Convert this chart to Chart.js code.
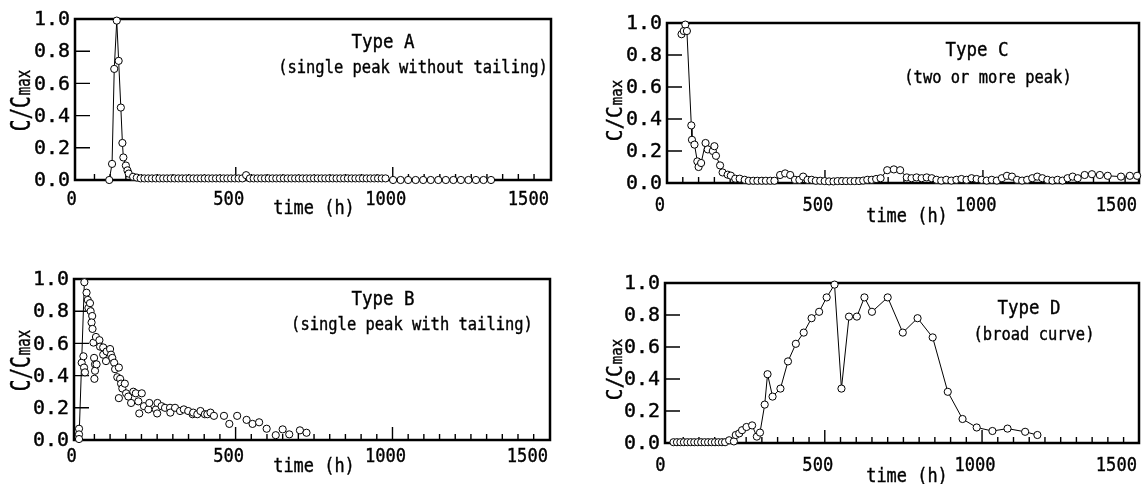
<!DOCTYPE html>
<html>
<head>
<meta charset="utf-8">
<script src="https://cdn.jsdelivr.net/npm/chart.js@4.4.1/dist/chart.umd.min.js"></script>
<style>
  body { margin: 0; background: #fff; }
  #wrap { position: relative; width: 1144px; height: 484px; overflow: hidden; }
  #wrap canvas { position: absolute; left: 0; top: 0; }
</style>
</head>
<body>
<div id="wrap">
  <canvas id="cA" width="1144" height="484"></canvas>
  <canvas id="cB" width="1144" height="484"></canvas>
  <canvas id="cC" width="1144" height="484"></canvas>
  <canvas id="cD" width="1144" height="484"></canvas>
</div>
<script>
// ---- data ----
const yTickValues = [0, 0.2, 0.4, 0.6, 0.8, 1.0];
const yTickLabels = ['0.0', '0.2', '0.4', '0.6', '0.8', '1.0'];
const xTickValues = [0, 500, 1000, 1500];
const xTickLabels = ['0', '500', '1000', '1500'];

// Type A
const timeA = [97, 106, 113, 121, 127, 134, 139, 142, 150, 155, 159, 173,
  185, 197, 209, 221, 233, 245, 257, 269, 281, 293, 305, 317, 329, 341, 353, 365, 377, 389, 401,
  413, 425, 437, 449, 461, 473, 485, 497, 509, 521, 533, 545, 557, 569, 581, 593, 605, 617, 629,
  641, 653, 665, 677, 689, 701, 713, 725, 737, 749, 761, 773, 785, 797, 809, 821, 833, 845, 857,
  869, 881, 893, 905, 917, 929, 941, 953, 965, 977,
  1001, 1025, 1049, 1073, 1097, 1121, 1145, 1169, 1193, 1217, 1241, 1265, 1289, 1313];
const valA = [0.00, 0.10, 0.69, 0.99, 0.74, 0.45, 0.23, 0.14, 0.09, 0.06, 0.04, 0.02,
  0.015, 0.01, 0.01, 0.01, 0.01, 0.01, 0.01, 0.01, 0.01, 0.01, 0.01, 0.01, 0.01, 0.01, 0.01, 0.01, 0.01, 0.01, 0.01,
  0.01, 0.01, 0.01, 0.01, 0.01, 0.01, 0.01, 0.01, 0.01, 0.01, 0.03, 0.01, 0.01, 0.01, 0.01, 0.01, 0.01, 0.01, 0.01,
  0.01, 0.01, 0.01, 0.01, 0.01, 0.01, 0.01, 0.01, 0.01, 0.01, 0.01, 0.01, 0.01, 0.01, 0.01, 0.01, 0.01, 0.01, 0.01,
  0.01, 0.01, 0.01, 0.01, 0.01, 0.01, 0.01, 0.01, 0.01, 0.01,
  0.0, 0.0, 0.0, 0.0, 0.0, 0.0, 0.0, 0.0, 0.0, 0.0, 0.0, 0.0, 0.0, 0.0];

// Type B (scatter) and its rising segment
const timeB = [1, 1, 1, 9.5, 15, 17, 20, 18, 25, 29, 31, 36, 38, 43, 41, 44, 47, 49, 52, 52, 50, 55, 57, 66,
  68, 78, 78, 89, 87, 100, 103, 107, 113, 116, 123, 128, 132, 135, 139, 128, 147, 151, 158, 167, 174,
  182, 190, 193, 201, 208, 222, 225, 246, 251, 250, 264, 275, 291, 292, 307, 323, 335, 349, 363, 365,
  378, 388, 402, 410, 420, 431, 463, 480, 505, 535, 554, 575, 599, 628, 650, 671, 705, 726];
const valB = [0.07, 0.035, 0.006, 0.48, 0.52, 0.45, 0.42, 0.98, 0.915, 0.87, 0.82, 0.85, 0.80, 0.77, 0.73, 0.69, 0.605, 0.51, 0.47, 0.43, 0.38, 0.64, 0.47, 0.62,
  0.58, 0.575, 0.53, 0.55, 0.49, 0.565, 0.53, 0.51, 0.48, 0.44, 0.39, 0.45, 0.38, 0.35, 0.32, 0.26, 0.35, 0.29, 0.27, 0.23, 0.30,
  0.29, 0.24, 0.165, 0.29, 0.21, 0.19, 0.23, 0.19, 0.23, 0.165, 0.21, 0.20, 0.20, 0.17, 0.20, 0.18, 0.19, 0.18, 0.16, 0.17,
  0.16, 0.18, 0.16, 0.16, 0.17, 0.15, 0.15, 0.10, 0.15, 0.125, 0.10, 0.11, 0.07, 0.03, 0.066, 0.035, 0.06, 0.045];
const riseTimeB = [1, 18];
const riseValB = [0.006, 0.98];

// Type C
const timeC = [46, 53, 58, 63, 77, 79, 87, 96, 100, 108, 122, 129, 145, 150, 155, 168, 176, 192, 202, 216, 230, 246,
  259, 273, 286, 300, 313, 327, 340, 358, 374, 390, 405, 419, 431, 445, 458, 471, 485, 499, 513, 527, 540, 554,
  567, 581, 594, 608, 621, 634, 648, 662, 676, 697, 718, 738, 759, 774, 790, 806, 822, 838, 853, 868, 884, 900,
  916, 932, 948, 964, 980, 996, 1012, 1028, 1044, 1060, 1076, 1092, 1108, 1124, 1140, 1156, 1172, 1188, 1204,
  1220, 1236, 1252, 1268, 1284, 1300, 1322, 1345, 1370, 1395, 1437, 1465, 1488];
const valC = [0.93, 0.95, 0.99, 0.95, 0.36, 0.27, 0.24, 0.135, 0.10, 0.125, 0.25, 0.21, 0.20, 0.23, 0.17, 0.11, 0.066, 0.052, 0.046, 0.027, 0.027, 0.02,
  0.014, 0.014, 0.014, 0.014, 0.014, 0.014, 0.014, 0.05, 0.06, 0.05, 0.02, 0.02, 0.04, 0.02, 0.02, 0.014, 0.014, 0.012, 0.01, 0.01, 0.012, 0.012,
  0.012, 0.012, 0.012, 0.012, 0.015, 0.02, 0.02, 0.025, 0.03, 0.08, 0.085, 0.08, 0.035, 0.03, 0.035, 0.03, 0.035, 0.03, 0.02, 0.015, 0.02, 0.015,
  0.02, 0.025, 0.02, 0.03, 0.025, 0.02, 0.015, 0.02, 0.015, 0.03, 0.045, 0.04, 0.02, 0.015, 0.02, 0.03, 0.04, 0.03, 0.02,
  0.015, 0.02, 0.015, 0.03, 0.04, 0.03, 0.05, 0.055, 0.05, 0.045, 0.04, 0.045, 0.045];

// Type D
const timeD = [19, 30, 41, 52, 63, 74, 85, 96, 107, 118, 129, 140, 151, 162, 173, 183,
  196, 211, 217, 228, 237, 251, 269, 284, 294, 309, 318, 334, 359, 383, 408, 433, 458, 482, 506, 531,
  553, 577, 602, 626, 650, 700, 748, 795, 843, 891, 938, 983, 1033, 1081, 1137, 1176];
const valD = [0.005, 0.005, 0.005, 0.005, 0.005, 0.005, 0.005, 0.005, 0.005, 0.005, 0.005, 0.005, 0.005, 0.005, 0.005, 0.005,
  0.017, 0.01, 0.05, 0.06, 0.08, 0.10, 0.11, 0.04, 0.065, 0.24, 0.43, 0.29, 0.34, 0.51, 0.62, 0.69, 0.78, 0.82, 0.91, 0.99,
  0.34, 0.79, 0.79, 0.91, 0.82, 0.91, 0.69, 0.78, 0.66, 0.32, 0.15, 0.097, 0.075, 0.09, 0.07, 0.05];

// ---- layout of the four panels (page pixels) ----
const W = 1144, H = 484;
const FONT = '"DejaVu Sans Mono", "Liberation Mono", monospace';

function drawText(ctx, s, x, y, size, cw, align, baseline) {
  ctx.save();
  ctx.font = size + 'px ' + FONT;
  const adv = ctx.measureText('0').width;
  ctx.translate(x, y);
  ctx.scale(cw / adv, 1);
  ctx.textAlign = align || 'center';
  ctx.textBaseline = baseline || 'middle';
  ctx.fillStyle = '#000';
  ctx.strokeStyle = '#000';
  ctx.lineWidth = 0.4;
  ctx.fillText(s, 0, 0);
  ctx.strokeText(s, 0, 0);
  ctx.restore();
}

function panelPlugin(p) {
  return {
    id: 'panel' + p.id,
    beforeDatasetsDraw(chart) {
      const ctx = chart.ctx, a = chart.chartArea;
      const xs = chart.scales.x, ys = chart.scales.y;
      ctx.save();
      ctx.strokeStyle = '#000';
      ctx.lineWidth = 1.4;
      ctx.beginPath();
      // y ticks, inward
      yTickValues.forEach(v => {
        const py = ys.getPixelForValue(v);
        ctx.moveTo(a.left, py);
        ctx.lineTo(a.left + 15, py);
      });
      // x ticks, inward: minor every 50 h, long at 500 / 1000
      for (let t = 50; t < 1500; t += 50) {
        const px = xs.getPixelForValue(t);
        const len = (t % 500 === 0) ? 13 : 6;
        ctx.moveTo(px, a.bottom);
        ctx.lineTo(px, a.bottom - len);
      }
      ctx.stroke();
      ctx.lineWidth = 2.5;
      ctx.strokeRect(a.left, a.top, a.right - a.left, a.bottom - a.top);
      ctx.restore();

      // y tick labels
      yTickValues.forEach((v, i) => {
        drawText(ctx, yTickLabels[i], a.left - 5, ys.getPixelForValue(v) + 1, 20, 12, 'right');
      });
      // x tick labels
      xTickValues.forEach((v, i) => {
        if (i === xTickValues.length - 1) {
          drawText(ctx, xTickLabels[i], a.right - 2, a.bottom + p.xLabDy, 20, 10.3, 'right');
        } else {
          drawText(ctx, xTickLabels[i], xs.getPixelForValue(v) - 7, a.bottom + p.xLabDy, 20, 10.3, 'center');
        }
      });
      // x title
      drawText(ctx, 'time (h)', p.timePos[0], p.timePos[1], 20, 10.2, 'center');
      // y title C/Cmax (rotated, subscript max)
      const ts = p.yTitleSize;
      ctx.save();
      ctx.translate(p.yTitle[0], p.yTitle[1]);
      ctx.rotate(-Math.PI / 2);
      const w1 = 3 * 11.7, w2 = 3 * 8.5, u0 = -(w1 + w2) / 2;
      drawText(ctx, 'C/C', u0, 0, ts, 11.7, 'left', 'alphabetic');
      drawText(ctx, 'max', u0 + w1 + 1, 0, ts * 0.72, 8.5, 'left', 'alphabetic');
      ctx.restore();
      // panel titles
      drawText(ctx, p.title, p.titlePos[0], p.titlePos[1], 20, 10.5, 'center');
      drawText(ctx, p.sub, p.subPos[0], p.subPos[1], 17, 9.3, 'center');
    }
  };
}

const panels = [
  { id: 'cA', box: [75, 19, 551, 180], xMin: -12, xMax: 1504, xLabDy: 20,
    title: 'Type A', titlePos: [383, 43], sub: '(single peak without tailing)', subPos: [413, 69],
    timePos: [314, 209], yTitle: [30, 101], yTitleSize: 26,
    sets: [{ t: timeA, v: valA, line: true, r: 3.6 }] },
  { id: 'cB', box: [74, 279, 550, 440], xMin: -15, xMax: 1502, xLabDy: 17,
    title: 'Type B', titlePos: [383, 300], sub: '(single peak with tailing)', subPos: [412, 326],
    timePos: [314, 467], yTitle: [30, 361], yTitleSize: 26,
    sets: [{ t: timeB, v: valB, line: false, r: 3.6 }, { t: riseTimeB, v: riseValB, line: true, r: 0 }] },
  { id: 'cC', box: [667, 23, 1143, 183], xMin: 0, xMax: 1494, xLabDy: 23,
    title: 'Type C', titlePos: [977, 51], sub: '(two or more peak)', subPos: [988, 79],
    timePos: [907, 217], yTitle: [622, 111], yTitleSize: 22,
    sets: [{ t: timeC, v: valC, line: true, r: 3.6 }] },
  { id: 'cD', box: [665, 283, 1140, 443], xMin: -8, xMax: 1499, xLabDy: 23,
    title: 'Type D', titlePos: [1029, 309], sub: '(broad curve)', subPos: [1034, 336],
    timePos: [907, 477], yTitle: [622, 370], yTitleSize: 22,
    sets: [{ t: timeD, v: valD, line: true, r: 3.6 }] }
];

panels.forEach(p => {
  const datasets = p.sets.map(s => ({
    data: s.t.map((t, i) => ({ x: t, y: s.v[i] })),
    showLine: s.line,
    borderColor: '#000',
    borderWidth: 1,
    pointRadius: s.r,
    pointBackgroundColor: '#fff',
    pointBorderColor: '#000',
    pointBorderWidth: 1,
    tension: 0,
    clip: false
  }));
  new Chart(document.getElementById(p.id), {
    type: 'scatter',
    data: { datasets: datasets },
    options: {
      responsive: false,
      animation: false,
      events: [],
      layout: { padding: { left: p.box[0], top: p.box[1], right: W - p.box[2], bottom: H - p.box[3] } },
      plugins: { legend: { display: false }, tooltip: { enabled: false } },
      scales: {
        x: { type: 'linear', display: false, min: p.xMin, max: p.xMax },
        y: { type: 'linear', display: false, min: 0, max: 1 }
      }
    },
    plugins: [panelPlugin(p)]
  });
});
</script>
</body>
</html>
